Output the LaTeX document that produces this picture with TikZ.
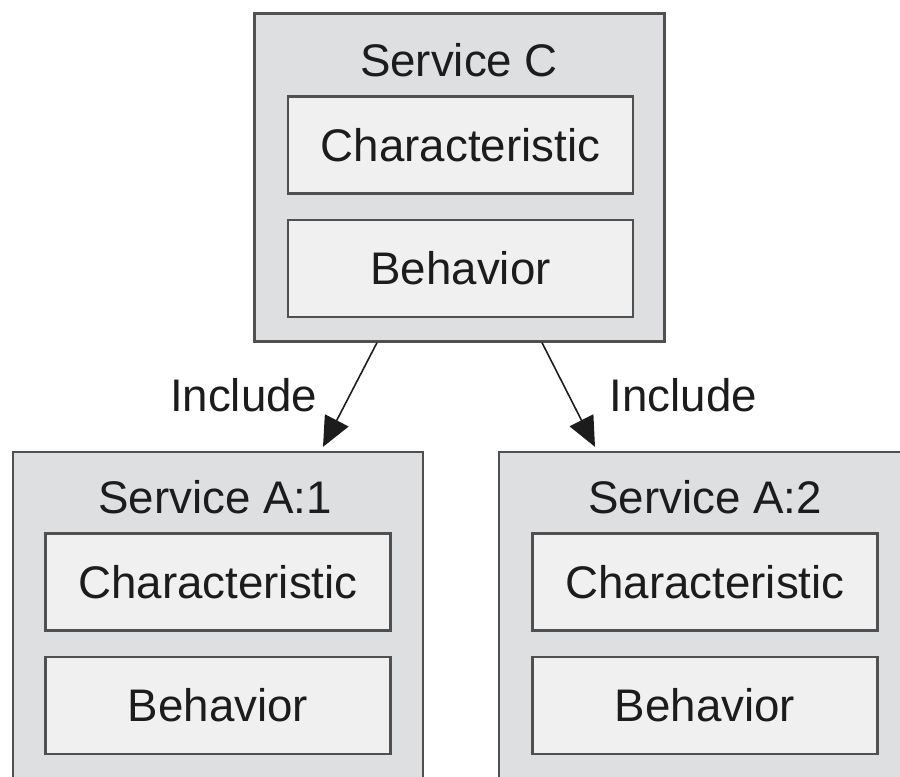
\documentclass[tikz,border=0pt]{standalone}
\usepackage{fontspec}
\setmainfont{Liberation Sans}
\usepackage{xcolor}
\usepackage{tikz}
\usetikzlibrary{arrows.meta,positioning,calc}

\definecolor{svcfill}{RGB}{221,223,224}
\definecolor{partfill}{RGB}{240,240,240}
\definecolor{boxline}{RGB}{80,80,80}
\definecolor{inktext}{RGB}{28,28,28}

\begin{document}
\begin{tikzpicture}[x=0.02cm,y=-0.02cm,>={Triangle[length=17pt,width=15pt]},
  every node/.style={font=\fontsize{26}{30}\selectfont,text=inktext},
  service/.style={draw=boxline,line width=1.3pt,fill=svcfill,minimum width=8.2cm,minimum height=6.56cm},
  part/.style={draw=boxline,line width=1.3pt,fill=partfill,minimum width=6.9cm,minimum height=1.94cm}]
\useasboundingbox (0,0) rectangle (900,777);
\clip (0,0) rectangle (900,777);

% composite service on top
\node[service] (svcC) at (459.5,177.5) {};
\node (titleC) at (459,60) {Service C};
\node[part] (charC) at (460.5,145) {Characteristic};
\node[part,below=0.48cm of charC] (behC) {Behavior};

% the two included services
\node[service] (svcA1) at (218,616) {};
\node (titleA1) at (215,497) {Service A:1};
\node[part] (charA1) at (218,582) {Characteristic};
\node[part,below=0.48cm of charA1] (behA1) {Behavior};

\node[service] (svcA2) at (704,616) {};
\node (titleA2) at (705,497) {Service A:2};
\node[part] (charA2) at (705,582) {Characteristic};
\node[part,below=0.48cm of charA2] (behA2) {Behavior};

% include relations
\draw[->,line width=0.9pt,draw=inktext] ($(svcC.south)+(-82.5,0)$) -- ($(svcA1.north)+(105,-4)$)
  node[midway,left=0.52cm] {Include};
\draw[->,line width=0.9pt,draw=inktext] ($(svcC.south)+(82.5,0)$) -- ($(svcA2.north)+(-109,-4)$)
  node[midway,right=0.69cm] {Include};
\end{tikzpicture}
\end{document}
